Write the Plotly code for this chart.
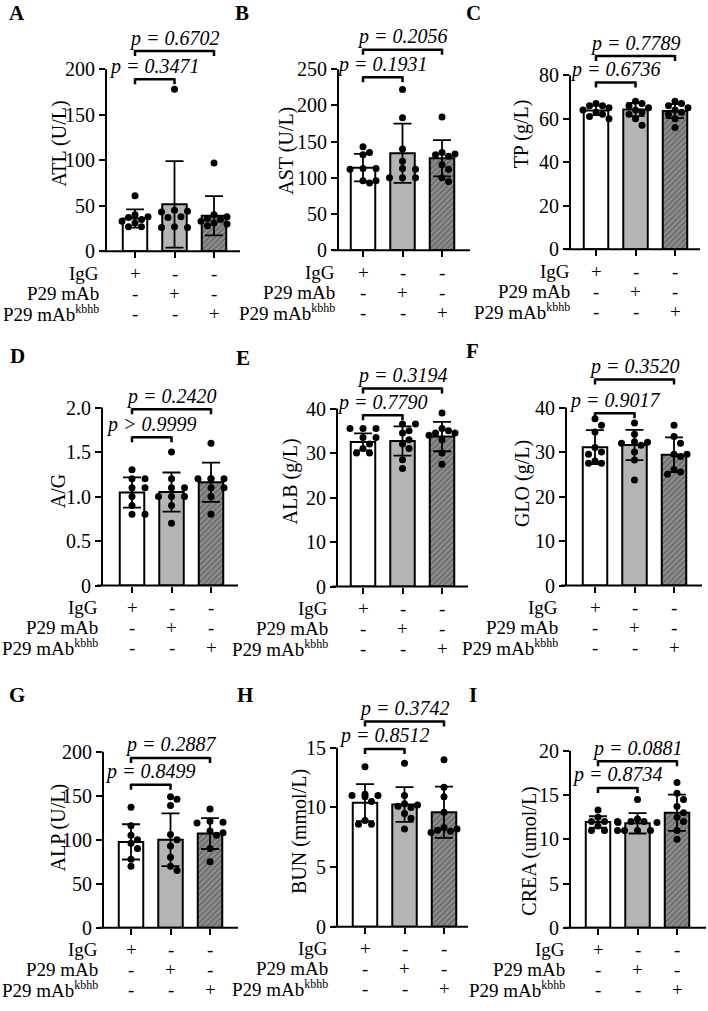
import plotly.graph_objects as go

W, H = 708, 1011

# ---------------- data ----------------
group_labels = ["IgG", "P29 mAb",
                "P29 mAb<sup><span style='font-size:12px'>kbhb</span></sup>"]
signs = [["+", "-", "-"], ["-", "+", "-"], ["-", "-", "+"]]
panel_letters = ["A", "B", "C", "D", "E", "F", "G", "H", "I"]
y_titles = ["ATL (U/L)", "AST (U/L)", "TP (g/L)", "A/G", "ALB (g/L)",
            "GLO (g/L)", "ALP (U/L)", "BUN (mmol/L)", "CREA (umol/L)"]

ticks_A = [0, 50, 100, 150, 200]
ticks_B = [0, 50, 100, 150, 200, 250]
ticks_C = [0, 20, 40, 60, 80]
ticks_D = [0, 0.5, 1.0, 1.5, 2.0]
ticks_D_text = ["0", "0.5", "1.0", "1.5", "2.0"]
ticks_E = [0, 10, 20, 30, 40]
ticks_F = [0, 10, 20, 30, 40]
ticks_G = [0, 50, 100, 150, 200]
ticks_H = [0, 5, 10, 15]
ticks_I = [0, 5, 10, 15, 20]

mean_A = [36, 51.5, 39];      sd_A = [10, 47.5, 21.5]
mean_B = [114, 134, 127];     sd_B = [19, 41, 25]
mean_C = [63.8, 64.2, 63.5];  sd_C = [2.2, 3.0, 3.2]
mean_D = [1.045, 1.05, 1.16]; sd_D = [0.17, 0.22, 0.22]
mean_E = [32.5, 32.7, 33.7];  sd_E = [1.9, 3.3, 3.3]
mean_F = [31.1, 31.6, 29.4];  sd_F = [3.8, 3.4, 3.9]
mean_G = [97.6, 100, 107];    sd_G = [20, 30, 17.5]
mean_H = [10.4, 10.25, 9.6];  sd_H = [1.55, 1.45, 2.15]
mean_I = [11.95, 11.8, 13.0]; sd_I = [0.65, 1.15, 2.05]

pts_A = [[61, 40, 38, 37, 35, 33, 31, 27, 27],
         [178, 45, 44, 43, 38, 37, 27, 26, 26],
         [97, 40, 38, 36, 35, 33, 31, 30, 28]]
pts_B = [[143, 135, 132, 113, 113, 112, 96, 96, 93],
         [222, 183, 140, 123, 113, 112, 100, 100, 100],
         [184, 135, 133, 132, 130, 118, 112, 100, 95]]
pts_C = [[67, 66, 66, 65, 64, 63, 62, 61, 60],
         [68, 67, 66, 65, 64, 63, 62, 60, 57],
         [68, 67, 66, 65, 64, 63, 62, 60, 56]]
pts_D = [[1.3, 1.2, 1.2, 1.1, 1.1, 1.0, 0.9, 0.8, 0.8],
         [1.5, 1.2, 1.1, 1.1, 1.0, 1.0, 1.0, 0.9, 0.7],
         [1.6, 1.2, 1.2, 1.2, 1.2, 1.1, 1.1, 1.0, 0.8]]
pts_E = [[35.5, 35.5, 35.5, 33.5, 33.5, 32, 31, 30, 30],
         [36.5, 36.5, 35, 34.5, 33, 32, 31, 28.5, 26.5],
         [39, 35.5, 35, 34.5, 34.5, 34, 33, 30, 27.5]]
pts_F = [[37.5, 36, 34.5, 31, 30, 29.5, 28, 27.5, 27.5],
         [36.5, 34, 32.3, 32.2, 32, 31.5, 30, 28.2, 23.7],
         [36, 33.5, 32, 29.5, 29.5, 29, 26, 25.5, 25]]
pts_G = [[137, 116, 105, 100, 96, 90, 78, 70],
         [149, 146, 139, 106, 100, 93, 80, 70, 65],
         [135, 121, 120, 119, 110, 108, 105, 90, 75]]
pts_H = [[13.4, 11.1, 11.0, 11.0, 10.9, 10.5, 8.9, 8.6, 8.6],
         [13.7, 11.0, 10.3, 10.2, 10.1, 10.0, 9.5, 9.1, 8.2],
         [14.0, 11.7, 10.9, 9.6, 8.3, 8.2, 8.1, 8.0, 7.9]]
pts_I = [[13.3, 12.5, 12.0, 12.0, 12.0, 11.5, 11.0, 11.0, 11.0],
         [14.5, 12.3, 12.0, 12.0, 11.9, 11.9, 11.0, 11.0, 11.0],
         [16.4, 15.2, 14.5, 13.7, 13.0, 12.5, 12.0, 11.0, 10.0]]

p_low = ["p = 0.3471", "p = 0.1931", "p = 0.6736", "p > 0.9999", "p = 0.7790",
         "p = 0.9017", "p = 0.8499", "p = 0.8512", "p = 0.8734"]
p_high = ["p = 0.6702", "p = 0.2056", "p = 0.7789", "p = 0.2420", "p = 0.3194",
          "p = 0.3520", "p = 0.2887", "p = 0.3742", "p = 0.0881"]

# ---------------- layout constants ----------------
means = [mean_A, mean_B, mean_C, mean_D, mean_E, mean_F, mean_G, mean_H, mean_I]
sds = [sd_A, sd_B, sd_C, sd_D, sd_E, sd_F, sd_G, sd_H, sd_I]
pts = [pts_A, pts_B, pts_C, pts_D, pts_E, pts_F, pts_G, pts_H, pts_I]
tickv = [ticks_A, ticks_B, ticks_C, ticks_D, ticks_E, ticks_F, ticks_G, ticks_H, ticks_I]
tickt = [[str(v) for v in ticks_A], [str(v) for v in ticks_B], [str(v) for v in ticks_C],
         ticks_D_text, [str(v) for v in ticks_E], [str(v) for v in ticks_F],
         [str(v) for v in ticks_G], [str(v) for v in ticks_H], [str(v) for v in ticks_I]]

# (axis left px, axis right px, zero px, top-tick px, first bar offset px)
geom = [(106, 240, 254, 70, 29), (338, 470, 253, 70, 25), (570, 700, 252, 76, 26),
        (102, 238, 592, 412, 30), (337, 468, 593, 413, 26), (566, 702, 592, 412, 29),
        (103, 238, 938, 760, 28), (337, 468, 937, 756, 28), (570, 706, 938, 759, 28)]
SP = 39.5       # px between bars
EXT = 1.25      # y range extension to host brackets
bracket_lv = [(189, 220), (239, 277), (76.6, 88.8), (1.667, 1.98), (38.5, 44.5),
              (38.7, 46.3), (162.5, 193), (14.9, 17.2), (15.8, 18.8)]
title_pos = [(46, 0.59), (51, 0.55), (49, 0.66), (44, 0.53), (46, 0.59),
             (44, 0.57), (45, 0.57), (37, 0.53), (40, 0.43)]
letter_pos = [(17, 13), (242, 13), (473, 13), (17, 360), (243, 362), (472, 355),
              (17, 703), (245, 703), (473, 703)]
label_gap = [5, 1, -2, 2, 7, 6, 3, 7, 3]

FONT = "'Liberation Serif', 'Times New Roman', Times, serif"
bar_colors = ["white", "#b4b4b4", "#8e8e8e"]


def swarm(vals, ypx, xpx, dot=6.8, step=6.5):
    placed = []
    offs = []
    for v in vals:
        yp = v * ypx
        c = 0
        order = [0, 1, -1, 2, -2, 3, -3]
        for k in order:
            off = k * step
            if all((off - xo) ** 2 + (yp - yo) ** 2 >= dot ** 2 for xo, yo in placed):
                c = off
                break
        placed.append((c, yp))
        offs.append(c / xpx)
    return offs


fig = go.Figure()
shapes = []
annotations = []
lay = {}

for n in range(9):
    k = "" if n == 0 else str(n + 1)
    xa, ya = "x" + k, "y" + k
    L, R, Z, T, o0 = geom[n]
    ymax = tickv[n][-1]
    ypx = (Z - T) / ymax
    top_ext = Z - (Z - T) * EXT
    lay["xaxis" + k] = dict(domain=[L / W, R / W], range=[-o0 / SP, (R - L - o0) / SP],
                            anchor=ya, tickvals=[0, 1, 2], showticklabels=False,
                            ticks="outside", ticklen=6, tickwidth=2, tickcolor="black",
                            showline=False, showgrid=False, zeroline=False, fixedrange=True)
    lay["yaxis" + k] = dict(domain=[1 - Z / H, 1 - top_ext / H], range=[0, ymax * EXT],
                            anchor=xa, tickvals=tickv[n], ticktext=tickt[n],
                            ticks="outside", ticklen=6, tickwidth=2, tickcolor="black",
                            tickfont=dict(family=FONT, size=20, color="black"),
                            ticklabelstandoff=0,
                            showline=False, showgrid=False, zeroline=False, fixedrange=True)

    fig.add_trace(go.Bar(
        x=[0, 1, 2], y=means[n], width=0.62, xaxis=xa, yaxis=ya,
        marker=dict(color=bar_colors, line=dict(color="black", width=2),
                    pattern=dict(shape=["", "", "/"], fillmode="overlay",
                                 fgcolor="#222222", size=4, solidity=0.4)),
        error_y=dict(type="data", array=sds[n], color="black", thickness=1.8, width=9),
        showlegend=False))
    for g in range(3):
        offs = swarm(pts[n][g], ypx, SP)
        fig.add_trace(go.Scatter(
            x=[g + o for o in offs], y=pts[n][g], mode="markers", xaxis=xa, yaxis=ya,
            marker=dict(color="black", size=7), cliponaxis=False, showlegend=False))

    # axis lines
    shapes.append(dict(type="line", xref=xa + " domain", yref=ya + " domain",
                       x0=0, x1=0, y0=0, y1=1 / EXT, line=dict(color="black", width=2)))
    shapes.append(dict(type="line", xref=xa + " domain", yref=ya + " domain",
                       x0=-5 / (R - L), x1=1, y0=0, y1=0, line=dict(color="black", width=2)))

    # brackets
    for (x1, lv, txt) in [(1, bracket_lv[n][0], p_low[n]), (2, bracket_lv[n][1], p_high[n])]:
        shapes.append(dict(type="line", xref=xa, yref=ya, x0=0, x1=x1, y0=lv, y1=lv,
                           line=dict(color="black", width=2.5)))
        for xx in (0, x1):
            shapes.append(dict(type="line", xref=xa, yref=ya, x0=xx, x1=xx,
                               ysizemode="pixel", yanchor=lv, y0=1, y1=-5,
                               line=dict(color="black", width=2.5)))
        annotations.append(dict(xref=xa, yref=ya, x=x1 / 2, y=lv, yshift=13,
                                text="<i>" + txt + "</i>", showarrow=False,
                                xanchor="center", yanchor="middle",
                                font=dict(family=FONT, size=20, color="black")))

    # y title
    dx, fy = title_pos[n]
    annotations.append(dict(xref=xa + " domain", yref=ya, x=0, y=fy * ymax, xshift=-dx,
                            text=y_titles[n], textangle=-90, showarrow=False,
                            xanchor="center", yanchor="middle",
                            font=dict(family=FONT, size=20, color="black")))

    # row labels and +/- table
    for r in range(3):
        annotations.append(dict(xref=xa + " domain", yref=ya, x=0, y=0,
                                xshift=-label_gap[n], yshift=-22 - 20 * r,
                                text=group_labels[r], showarrow=False,
                                xanchor="right", yanchor="middle",
                                font=dict(family=FONT, size=19, color="black")))
        for g in range(3):
            annotations.append(dict(xref=xa, yref=ya, x=g, y=0, yshift=-22 - 20 * r,
                                    text=signs[r][g], showarrow=False,
                                    xanchor="center", yanchor="middle",
                                    font=dict(family=FONT, size=19, color="black")))

    # panel letter
    lx, ly = letter_pos[n]
    annotations.append(dict(xref="paper", yref="paper", x=lx / W, y=1 - ly / H,
                            text="<b>" + panel_letters[n] + "</b>", showarrow=False,
                            xanchor="center", yanchor="middle",
                            font=dict(family=FONT, size=21, color="black")))

fig.update_layout(width=W, height=H, margin=dict(l=0, r=0, t=0, b=0), autosize=False,
                  paper_bgcolor="white", plot_bgcolor="white", showlegend=False,
                  barmode="overlay", shapes=shapes, annotations=annotations,
                  font=dict(family=FONT, color="black"), **lay)

fig.write_html("out.html")
